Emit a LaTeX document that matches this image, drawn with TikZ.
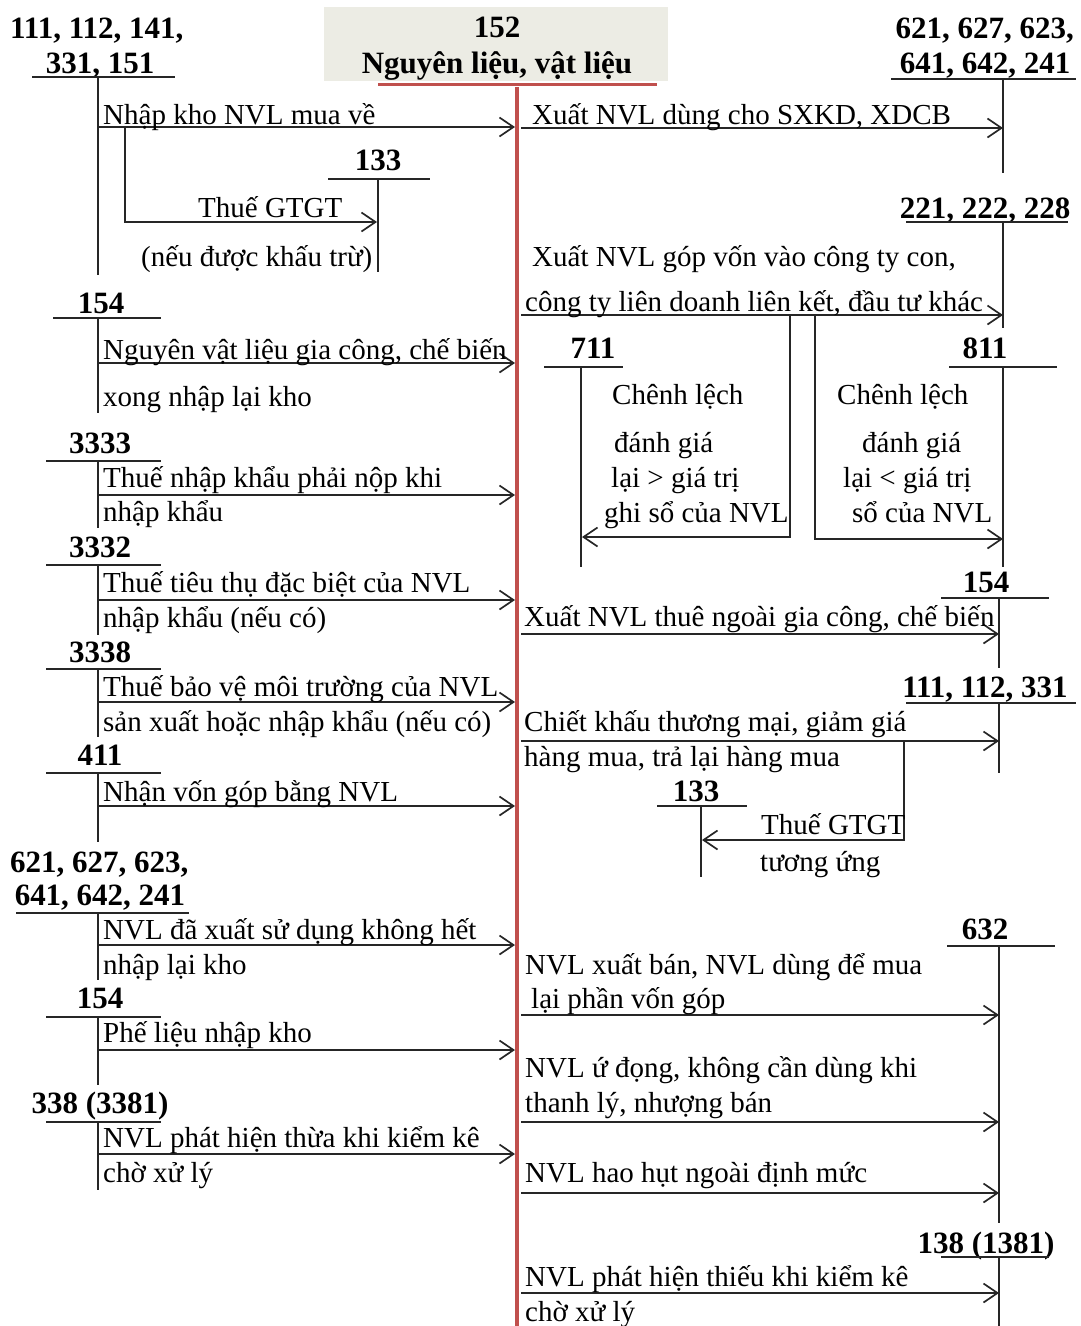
\documentclass[tikz,border=0pt]{standalone}
\usepackage{fontspec}
\setmainfont{Liberation Serif}
\usetikzlibrary{arrows.meta}
\definecolor{redline}{RGB}{192,80,77}
\definecolor{hdrbg}{RGB}{236,236,228}
\begin{document}
\begin{tikzpicture}[x=1pt,y=-1pt,
  lbl/.style={anchor=base west, inner sep=0pt, font=\fontsize{29}{34}\selectfont},
  acct/.style={anchor=base, inner sep=0pt, font=\fontsize{31}{36}\selectfont\bfseries},
  tline/.style={line width=1.7pt, draw=black!85},
  flow/.style={tline, -{Straight Barb[length=14pt,width=19pt]}}]
\useasboundingbox (0,0) rectangle (1080,1326);

% ---------- header 152 ----------
\node[fill=hdrbg, inner sep=0pt, minimum width=344, minimum height=74, anchor=north west] (hdr) at (324,7) {};
\node[acct] (h152) at (497,37) {152};
\node[acct] (hname) at (497,73) {Nguyên liệu, vật liệu};
\draw[redline, line width=3pt] (378,84) -- (657,84);
\draw[redline, line width=4.5pt] (517,87) coordinate (rtop) -- (517,1326) coordinate (rbot);

% ================= LEFT SIDE =================
% 111,112,141,331,151
\node[acct, anchor=base west] (a111a) at (10,38) {111, 112, 141,};
\node[acct] (a111b) at (100,73) {331, 151};
\draw[tline] (32,77) -- (175,77);
\draw[tline] (98,77) -- (98,275);
\coordinate (f1s) at (98,127); \coordinate (f1e) at (515,127);
\draw[flow] (f1s) -- (f1e);
\node[lbl] (t1) at (103,124) {Nhập kho NVL mua về};
% 133 (left)
\node[acct] (a133l) at (378,170) {133};
\draw[tline] (328,179) -- (430,179);
\draw[tline] (378,179) -- (378,272);
\coordinate (f2s) at (125,127); \coordinate (f2m) at (125,222); \coordinate (f2e) at (377,222);
\draw[flow] (f2s) -- (f2m) -- (f2e);
\node[lbl] (t2a) at (198,217) {Thuế GTGT};
\node[lbl] (t2b) at (141,266) {(nếu được khấu trừ)};

% 154
\node[acct] (a154l) at (101,313) {154};
\draw[tline] (53,318) -- (161,318);
\draw[tline] (98,318) -- (98,413);
\coordinate (f3s) at (98,363); \coordinate (f3e) at (515,363);
\draw[flow] (f3s) -- (f3e);
\node[lbl] (t3a) at (103,359) {Nguyên vật liệu gia công, chế biến};
\node[lbl] (t3b) at (103,406) {xong nhập lại kho};

% 3333
\node[acct] (a3333) at (100,453) {3333};
\draw[tline] (46,461) -- (161,461);
\draw[tline] (98,461) -- (98,528);
\coordinate (f4s) at (98,495); \coordinate (f4e) at (515,495);
\draw[flow] (f4s) -- (f4e);
\node[lbl] (t4a) at (103,487) {Thuế nhập khẩu phải nộp khi};
\node[lbl] (t4b) at (103,521) {nhập khẩu};

% 3332
\node[acct] (a3332) at (100,557) {3332};
\draw[tline] (46,565) -- (161,565);
\draw[tline] (98,565) -- (98,635);
\coordinate (f5s) at (98,600); \coordinate (f5e) at (515,600);
\draw[flow] (f5s) -- (f5e);
\node[lbl] (t5a) at (103,592) {Thuế tiêu thụ đặc biệt của NVL};
\node[lbl] (t5b) at (103,627) {nhập khẩu (nếu có)};

% 3338
\node[acct] (a3338) at (100,662) {3338};
\draw[tline] (46,669) -- (161,669);
\draw[tline] (98,669) -- (98,737);
\coordinate (f6s) at (98,702); \coordinate (f6e) at (515,702);
\draw[flow] (f6s) -- (f6e);
\node[lbl] (t6a) at (103,696) {Thuế bảo vệ môi trường của NVL};
\node[lbl] (t6b) at (103,731) {sản xuất hoặc nhập khẩu (nếu có)};

% 411
\node[acct] (a411) at (100,765) {411};
\draw[tline] (46,773) -- (161,773);
\draw[tline] (98,773) -- (98,842);
\coordinate (f7s) at (98,806); \coordinate (f7e) at (515,806);
\draw[flow] (f7s) -- (f7e);
\node[lbl] (t7a) at (103,801) {Nhận vốn góp bằng NVL};

% 621,627,623,641,642,241 (left)
\node[acct, anchor=base west] (a621la) at (10,872) {621, 627, 623,};
\node[acct] (a621lb) at (100,905) {641, 642, 241};
\draw[tline] (16,913) -- (189,913);
\draw[tline] (98,913) -- (98,980);
\coordinate (f8s) at (98,945); \coordinate (f8e) at (515,945);
\draw[flow] (f8s) -- (f8e);
\node[lbl] (t8a) at (103,939) {NVL đã xuất sử dụng không hết};
\node[lbl] (t8b) at (103,974) {nhập lại kho};

% 154 (lower left)
\node[acct] (a154l2) at (100,1008) {154};
\draw[tline] (46,1017) -- (161,1017);
\draw[tline] (98,1017) -- (98,1085);
\coordinate (f9s) at (98,1050); \coordinate (f9e) at (515,1050);
\draw[flow] (f9s) -- (f9e);
\node[lbl] (t9a) at (103,1042) {Phế liệu nhập kho};

% 338 (3381)
\node[acct] (a338) at (100,1113) {338 (3381)};
\draw[tline] (46,1122) -- (161,1122);
\draw[tline] (98,1122) -- (98,1190);
\coordinate (f10s) at (98,1154); \coordinate (f10e) at (515,1154);
\draw[flow] (f10s) -- (f10e);
\node[lbl] (t10a) at (103,1147) {NVL phát hiện thừa khi kiểm kê};
\node[lbl] (t10b) at (103,1182) {chờ xử lý};

% ================= RIGHT SIDE =================
% 621,... (right)
\node[acct, anchor=base east] (a621ra) at (1074,38) {621, 627, 623,};
\node[acct] (a621rb) at (985,73) {641, 642, 241};
\draw[tline] (891,79) -- (1076,79);
\draw[tline] (1003,79) -- (1003,173);
\coordinate (g1s) at (521,128); \coordinate (g1e) at (1003,128);
\draw[flow] (g1s) -- (g1e);
\node[lbl] (u1) at (532,124) {Xuất NVL dùng cho SXKD, XDCB};

% 221,222,228
\node[acct] (a221) at (985,218) {221, 222, 228};
\draw[tline] (906,222) -- (1068,222);
\draw[tline] (1003,222) -- (1003,328);
\coordinate (g2s) at (521,315); \coordinate (g2e) at (1003,315);
\draw[flow] (g2s) -- (g2e);
\node[lbl] (u2a) at (532,266) {Xuất NVL góp vốn vào công ty con,};
\node[lbl] (u2b) at (525,311) {công ty liên doanh liên kết, đầu tư khác};

% 711
\node[acct] (a711) at (593,358) {711};
\draw[tline] (544,367) -- (623,367);
\draw[tline] (581,367) -- (581,567);
\coordinate (g3s) at (790,315); \coordinate (g3m) at (790,537); \coordinate (g3e) at (582,537);
\draw[flow] (g3s) -- (g3m) -- (g3e);
\node[lbl] (u3a) at (612,404) {Chênh lệch};
\node[lbl] (u3b) at (614,452) {đánh giá};
\node[lbl] (u3c) at (611,487) {lại > giá trị};
\node[lbl] (u3d) at (604,522) {ghi sổ của NVL};

% 811
\node[acct] (a811) at (985,358) {811};
\draw[tline] (949,367) -- (1057,367);
\draw[tline] (1003,367) -- (1003,567);
\coordinate (g4s) at (815,315); \coordinate (g4m) at (815,539); \coordinate (g4e) at (1003,539);
\draw[flow] (g4s) -- (g4m) -- (g4e);
\node[lbl] (u4a) at (837,404) {Chênh lệch};
\node[lbl] (u4b) at (862,452) {đánh giá};
\node[lbl] (u4c) at (843,487) {lại < giá trị};
\node[lbl] (u4d) at (852,522) {sổ của NVL};

% 154 (right)
\node[acct] (a154r) at (986,592) {154};
\draw[tline] (941,598) -- (1049,598);
\draw[tline] (999,598) -- (999,668);
\coordinate (g5s) at (521,634); \coordinate (g5e) at (999,634);
\draw[flow] (g5s) -- (g5e);
\node[lbl] (u5) at (524,626) {Xuất NVL thuê ngoài gia công, chế biến};

% 111,112,331
\node[acct] (a111r) at (985,697) {111, 112, 331};
\draw[tline] (906,703) -- (1076,703);
\draw[tline] (999,703) -- (999,773);
\coordinate (g6s) at (521,741); \coordinate (g6e) at (999,741);
\draw[flow] (g6s) -- (g6e);
\node[lbl] (u6a) at (524,731) {Chiết khấu thương mại, giảm giá};
\node[lbl] (u6b) at (524,766) {hàng mua, trả lại hàng mua};

% 133 (right)
\node[acct] (a133r) at (696,801) {133};
\draw[tline] (657,806) -- (747,806);
\draw[tline] (701,806) -- (701,877);
\coordinate (g7s) at (904,741); \coordinate (g7m) at (904,840); \coordinate (g7e) at (702,840);
\draw[flow] (g7s) -- (g7m) -- (g7e);
\node[lbl] (u7a) at (761,834) {Thuế GTGT};
\node[lbl] (u7b) at (760,871) {tương ứng};

% 632
\node[acct] (a632) at (985,939) {632};
\draw[tline] (947,946) -- (1055,946);
\draw[tline] (999,946) -- (999,1223);
\coordinate (g8s) at (521,1015); \coordinate (g8e) at (999,1015);
\draw[flow] (g8s) -- (g8e);
\node[lbl] (u8a) at (525,974) {NVL xuất bán, NVL dùng để mua};
\node[lbl] (u8b) at (531,1008) {lại phần vốn góp};
\coordinate (g9s) at (521,1122); \coordinate (g9e) at (999,1122);
\draw[flow] (g9s) -- (g9e);
\node[lbl] (u9a) at (525,1077) {NVL ứ đọng, không cần dùng khi};
\node[lbl] (u9b) at (525,1112) {thanh lý, nhượng bán};
\coordinate (g10s) at (521,1193); \coordinate (g10e) at (999,1193);
\draw[flow] (g10s) -- (g10e);
\node[lbl] (u10) at (525,1182) {NVL hao hụt ngoài định mức};

% 138 (1381)
\node[acct] (a138) at (986,1253) {138 (1381)};
\draw[tline] (941,1257) -- (1049,1257);
\draw[tline] (999,1257) -- (999,1326);
\coordinate (g11s) at (521,1293); \coordinate (g11e) at (999,1293);
\draw[flow] (g11s) -- (g11e);
\node[lbl] (u11a) at (525,1286) {NVL phát hiện thiếu khi kiểm kê};
\node[lbl] (u11b) at (525,1321) {chờ xử lý};
\end{tikzpicture}
\end{document}
